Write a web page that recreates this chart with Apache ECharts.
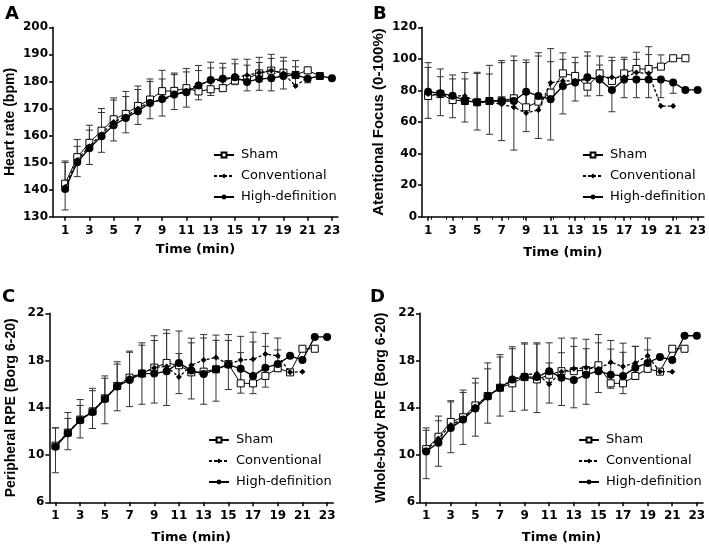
<!DOCTYPE html>
<html><head><meta charset="utf-8">
<script src="https://cdn.jsdelivr.net/npm/echarts@6/dist/echarts.min.js"></script>
<style>html,body{margin:0;padding:0;background:#fff}#c{width:709px;height:551px}</style>
</head><body><div id="c"></div><script>
// ---- shared ----
const minutes = [1,2,3,4,5,6,7,8,9,10,11,12,13,14,15,16,17,18,19,20,21,22,23];
const xTickValues = [1,3,5,7,9,11,13,15,17,19,21,23];
const seriesNames = ['Sham','Conventional','High-definition'];

// ---- A: Heart rate (bpm) ----
const hrSham = [142.2,152,157.3,161.8,166,168,170.9,173.3,176.4,176.5,177.5,176.3,177.1,177.5,180.3,181,183,184,183.2,182.4,184.1,182,null];
const hrConv = [141,151,156,160.5,165,167,170,172.5,173,175,176.5,179,180,180.5,181.5,182.3,183.2,184,183,178.3,181.5,null,null];
const hrHD   = [140.2,150.1,155.3,159.7,163.8,166.5,169,172,173.5,175.2,176,178.5,180.5,181,181.5,179.8,180.9,181.2,182,182.4,181,182,181.2];
const hrShamSD = [8.4,6.5,6.5,8.2,7.9,8.3,7.4,7.6,7.7,6.6,7.3,7.7,7.9,7.5,7.9,5,5.9,6,5.7,3,0,0,null];
const hrConvSD = [9,5,6,8,8.1,7.4,7,7.5,7.9,7.5,7,6.9,7.1,6.2,5,5.9,3.8,4.5,4.5,9.4,0,null,null];
const hrHDSD   = [7.7,5.3,6,5.9,5.8,5.5,4.9,5.8,6.3,5.6,5.5,5.3,5.7,4.3,2.7,3.3,4.2,4.7,4.8,0,1.5,0,0];

// ---- B: Atentional Focus (0-100%) ----
const afSham = [76.5,77.7,73.9,73.3,72.5,73.3,73.7,75,69.3,72.9,78.6,90.8,89.2,82.4,90.8,86,90.8,93.6,93.6,95.1,100.4,100.4,null];
const afConv = [77.7,77.1,76.5,76.5,72.5,72.5,71.2,69.3,65.7,67.6,84.9,86,86,87,88.3,88.3,88.3,91.3,90.8,70.1,70.1,null,null];
const afHD   = [79.2,78.2,76.7,73.5,72.5,73.3,73.3,73.3,79.2,76.5,74.4,82.8,85.1,88.3,87,80.3,87,87,87,87,85.1,80.3,80.3];
const afShamSD = [21.1,15.9,13.4,14,19,22.6,23.9,23.9,30,28.9,19.6,13,11.8,19.4,11,12.9,10.2,10.6,14.1,7.4,0,0,null];
const afConvSD = [16.9,11.6,13.3,14.8,18.3,17.9,27.7,32.5,32,36.3,21.6,13.7,11.6,17.4,7.8,12.7,11.4,8.4,11.9,0,0,null,null];
const afHDSD   = [16.9,14.2,14,13.5,17.6,21.1,25.1,31.1,25.3,26.9,25.8,17.7,11.8,11.8,10.3,13.8,11.6,11.6,11.6,11.6,6.9,0,0];

// ---- C: Peripheral RPE (Borg 6-20) ----
const prSham = [10.8,11.9,13.0,13.7,14.8,15.85,16.55,16.9,17.4,17.8,17.6,17.0,17.06,17.26,17.7,16.07,16.07,16.7,17.35,17.0,19.0,19.0,null];
const prConv = [10.8,11.9,13.0,13.7,14.8,15.85,16.55,16.9,17.4,17.5,16.6,17.6,18.05,18.25,17.7,18.05,18.1,18.55,18.4,17.0,17.06,null,null];
const prHD   = [10.7,11.85,12.95,13.65,14.75,15.8,16.35,16.9,16.9,17.1,17.8,17.15,16.86,17.26,17.65,17.3,16.7,17.4,17.7,18.4,18.05,20.0,20.0];
const prShamSD = [1.5,1.7,1.7,1.95,1.9,2.05,2.25,2.6,2.7,2.8,2.9,2.9,2.85,2.45,2.5,2.6,3.5,2.5,1.55,0,0,0,null];
const prConvSD = [1.5,1.2,1.2,1.75,1.7,1.85,2.15,2.4,2.3,2.8,2,1.9,2.15,1.9,2,2,2.3,1.75,1.5,0,0,null,null];
const prHDSD   = [2.2,1.4,1.5,1.4,2.1,2.05,2.25,2.6,2.5,2.9,2.6,2.4,2.56,2.7,2.1,2.06,1.5,1.65,0.6,0,0,0,0];

// ---- D: Whole-body RPE (Borg 6-20) ----
const wbSham = [10.5,11.55,12.8,13.2,14.2,15.0,15.7,16.07,16.6,16.4,16.8,17.1,17.1,17.2,17.6,16.07,16.07,16.7,17.3,17.06,19.0,19.0,null];
const wbConv = [10.4,11.4,12.55,13.05,14.1,15.0,15.7,16.35,16.8,16.9,16.0,17.06,17.3,17.4,17.3,17.85,17.5,17.8,18.4,17.06,17.06,null,null];
const wbHD   = [10.3,11.05,12.3,13.0,13.95,14.95,15.7,16.4,16.6,16.6,17.1,16.55,16.35,16.8,17.1,16.8,16.7,17.4,17.8,18.3,18.05,20.1,20.1];
const wbShamSD = [1.8,1.75,1.8,2.3,2.3,2.8,2.8,3.1,2.9,3.1,2.7,2.8,2.8,1.8,2.6,2.9,3.4,2.5,1.6,0,0,0,null];
const wbConvSD = [1.7,1.5,1.95,2.25,2.0,2.3,2.6,2.65,2.6,2.5,1.8,1.6,1.9,2.4,2.2,1.85,1.2,1.4,1.5,0,0,null,null];
const wbHDSD   = [2.3,2.0,2.1,2.1,2.35,2.25,2.4,2.7,2.8,3.0,2.7,2.35,2.35,2.5,1.8,1.15,1.5,1.0,0.6,0,0,0,0];

const panels = [
  {letter:'A', yName:'Heart rate (bpm)', yNameSize:14, ymin:130, ymax:200, yint:10, xmin:0,
   grid:{left:53, top:27.3, width:285, height:189.4}, nameGap:36, xNameGap:26,
   means:[hrSham,hrConv,hrHD], sds:[hrShamSD,hrConvSD,hrHDSD], legend:{left:208, top:143}, letterPos:[5,5]},
  {letter:'B', yName:'Atentional Focus (0-100%)', yNameSize:15, ymin:0, ymax:120, yint:20, xmin:0.5,
   grid:{left:422, top:27.3, width:283, height:189.4}, nameGap:36, xNameGap:29,
   means:[afSham,afConv,afHD], sds:[afShamSD,afConvSD,afHDSD], legend:{left:577, top:143}, letterPos:[373,5]},
  {letter:'C', yName:'Peripheral RPE (Borg 6-20)', yNameSize:14, ymin:6, ymax:22, yint:4, xmin:0.5,
   grid:{left:49.3, top:313.3, width:284, height:189}, nameGap:31, xNameGap:29,
   means:[prSham,prConv,prHD], sds:[prShamSD,prConvSD,prHDSD], legend:{left:203, top:428}, letterPos:[2,288]},
  {letter:'D', yName:'Whole-body RPE (Borg 6-20)', yNameSize:14, ymin:6, ymax:22, yint:4, xmin:0.5,
   grid:{left:420, top:313.3, width:283, height:189}, nameGap:32, xNameGap:29,
   means:[wbSham,wbConv,wbHD], sds:[wbShamSD,wbConvSD,wbHDSD], legend:{left:573, top:428}, letterPos:[370,288]}
];

const BOLD_WIDE = 'DejaVu Sans';
const ARIAL = 'Liberation Sans';

const seriesStyle = [
  {symbol:'rect', symbolSize:7, itemStyle:{color:'#fff', borderColor:'#000', borderWidth:1}, lineStyle:{color:'#000', width:1, type:'solid'}, z:3},
  {symbol:'diamond', symbolSize:6, itemStyle:{color:'#000', borderColor:'#000', borderWidth:0}, lineStyle:{color:'#000', width:1.3, type:[3,2]}, z:4},
  {symbol:'circle', symbolSize:8, itemStyle:{color:'#000', borderColor:'#000', borderWidth:0}, lineStyle:{color:'#000', width:1.3, type:'solid'}, z:5}
];
const errDir = [1, 1, -1]; // Sham and Conventional drawn above, High-definition below

function errRender(dir) {
  return function (params, api) {
    const x = api.value(0), y = api.value(1), e = api.value(2);
    if (!(e > 0)) return null;
    const p0 = api.coord([x, y]);
    const p1 = api.coord([x, y + dir * e]);
    const cw = 3.5;
    return {type:'group', children:[
      {type:'line', shape:{x1:p0[0], y1:p0[1], x2:p1[0], y2:p1[1]}, style:{stroke:'#333', lineWidth:1}},
      {type:'line', shape:{x1:p1[0]-cw, y1:p1[1], x2:p1[0]+cw, y2:p1[1]}, style:{stroke:'#333', lineWidth:1}}
    ]};
  };
}

const grids = [], xAxes = [], yAxes = [], series = [], legends = [], graphics = [];
panels.forEach((p, k) => {
  grids.push(p.grid);
  xAxes.push({
    type:'value', gridIndex:k, min:p.xmin, max:23.5,
    name:'Time (min)', nameLocation:'middle', nameGap:p.xNameGap,
    nameTextStyle:{fontFamily:BOLD_WIDE, fontWeight:'bold', fontSize:13, color:'#000'},
    axisLine:{show:true, onZero:false, lineStyle:{color:'#000', width:1.5}},
    axisTick:{show:true, length:4, lineStyle:{color:'#000', width:1.5}, customValues:xTickValues},
    minorTick:{show: k === 1, splitNumber:4, length:3, lineStyle:{color:'#000', width:1}},
    axisLabel:{customValues:xTickValues, fontFamily:BOLD_WIDE, fontWeight:'bold', fontSize:12, color:'#000', margin:8},
    splitLine:{show:false}
  });
  yAxes.push({
    type:'value', gridIndex:k, min:p.ymin, max:p.ymax, interval:p.yint,
    name:p.yName, nameLocation:'middle', nameGap:p.nameGap, nameRotate:90,
    nameTextStyle:{fontFamily:ARIAL, fontWeight:'bold', fontSize:p.yNameSize, color:'#000'},
    axisLine:{show:true, lineStyle:{color:'#000', width:1.5}},
    axisTick:{show:true, length:4, lineStyle:{color:'#000', width:1.5}},
    axisLabel:{fontFamily:BOLD_WIDE, fontWeight:'bold', fontSize:12, color:'#000', margin:5},
    splitLine:{show:false}
  });
  for (let s = 0; s < 3; s++) {
    const mean = p.means[s], sd = p.sds[s];
    const errData = [];
    minutes.forEach((m, i) => { if (mean[i] != null && sd[i] != null) errData.push([m, mean[i], sd[i]]); });
    series.push({
      type:'custom', name:seriesNames[s] + ' SD', xAxisIndex:k, yAxisIndex:k,
      renderItem:errRender(errDir[s]), data:errData, z:2, silent:true,
      encode:{x:0, y:1}
    });
  }
  for (let s = 0; s < 3; s++) {
    const mean = p.means[s];
    const data = [];
    minutes.forEach((m, i) => { if (mean[i] != null) data.push([m, mean[i]]); });
    const st = seriesStyle[s];
    series.push(Object.assign({
      type:'line', name:seriesNames[s], xAxisIndex:k, yAxisIndex:k, data:data,
      showSymbol:true, animation:false
    }, JSON.parse(JSON.stringify(st))));
  }
  legends.push({
    data:seriesNames, orient:'vertical', left:p.legend.left, top:p.legend.top,
    itemWidth:20, itemHeight:6, itemGap:7, selectedMode:false,
    textStyle:{fontFamily:'DejaVu Sans', fontSize:13, color:'#000', lineHeight:14, padding:[0,0,0,2]}
  });
  graphics.push({type:'text', left:p.letterPos[0], top:p.letterPos[1],
    style:{text:p.letter, font:'bold 18px "DejaVu Sans"', fill:'#000'}});
});

const chart = echarts.init(document.getElementById('c'), null, {renderer:'canvas'});
chart.setOption({
  animation:false,
  backgroundColor:'#fff',
  grid:grids, xAxis:xAxes, yAxis:yAxes, series:series, legend:legends, graphic:graphics
});
</script></body></html>
